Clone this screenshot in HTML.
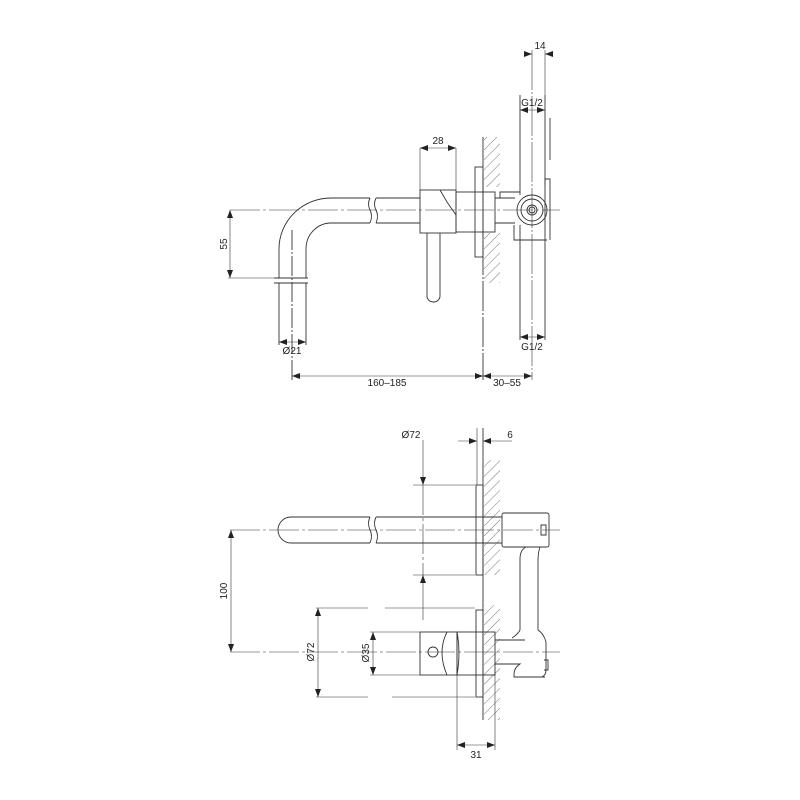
<!DOCTYPE html>
<html><head><meta charset="utf-8"><style>
html,body{margin:0;padding:0;background:#fff;width:800px;height:800px;overflow:hidden}
svg text{font-family:"Liberation Sans",sans-serif;font-size:10px;fill:#222}
</style></head><body>
<svg width="800" height="800" viewBox="0 0 800 800" xmlns="http://www.w3.org/2000/svg">
<defs>
<pattern id="h" width="7" height="7" patternUnits="userSpaceOnUse" patternTransform="rotate(45)"><line x1="0" y1="0" x2="0" y2="7" stroke="#555" stroke-width="0.8"/></pattern>
<marker id="a" viewBox="0 0 8 6" refX="8" refY="3" markerWidth="8" markerHeight="6" orient="auto-start-reverse" markerUnits="userSpaceOnUse"><path d="M0,0L8,3L0,6z" fill="#222"/></marker>
</defs>
<g fill="none" stroke="#333" stroke-width="0.9">
<rect x="484" y="137" width="16" height="50" fill="url(#h)" stroke="none"/>
<rect x="484" y="233" width="16" height="50" fill="url(#h)" stroke="none"/>
<line x1="483" y1="137" x2="483" y2="380" stroke-dasharray="30,2,2,2"/>
<path d="M370,198 H331 A52,51 0 0 0 279,249 V278"/>
<path d="M370,223 H331 A25,26 0 0 0 306,249 V278"/>
<path d="M370,198 q-3,6 0,12 q3,6 0,13"/>
<path d="M376,198 q-3,6 0,12 q3,6 0,13"/>
<path d="M376,198 H420 M376,223 H420"/>
<line x1="274" y1="278" x2="308" y2="278"/>
<line x1="274" y1="283" x2="308" y2="283"/>
<path d="M279,283 V345 M306,283 V345"/>
<line x1="292" y1="230" x2="292" y2="380" stroke-dasharray="20,2,2,2"/>
<line x1="230" y1="210" x2="560" y2="210" stroke-dasharray="30,3,3,3" stroke-width="0.6"/>
<rect x="420" y="190" width="36" height="43"/>
<path d="M440,190 L447,202 L456,215"/>
<rect x="456" y="192" width="39" height="40"/>
<rect x="475" y="167" width="8" height="90"/>
<path d="M427,233 V296 a6.5,6 0 0 0 13,0 V233"/>
<path d="M495,198 H515 M495,223 H515 M500,198 V192 H520"/>
<path d="M514,225 V240 H547 M545,185 V179 h5 V240"/>
<circle cx="532" cy="210" r="15"/>
<circle cx="532" cy="210" r="11"/>
<circle cx="532" cy="210" r="5"/>
<circle cx="532" cy="210" r="3"/>
<line x1="520" y1="95" x2="520" y2="195"/><line x1="520" y1="225" x2="520" y2="340"/>
<line x1="545" y1="95" x2="545" y2="340"/>
<line x1="550" y1="118" x2="550" y2="160"/>
<line x1="532" y1="50" x2="532" y2="380" stroke-dasharray="40,2,2,2" stroke-width="0.6"/>
<line x1="545" y1="50" x2="545" y2="95" stroke-width="0.6"/>
<g stroke-width="0.6">
<line x1="420" y1="148" x2="420" y2="190"/><line x1="456" y1="148" x2="456" y2="190"/>
<line x1="420" y1="148" x2="456" y2="148" marker-start="url(#a)" marker-end="url(#a)"/>
<line x1="525" y1="54" x2="532" y2="54" marker-end="url(#a)"/>
<line x1="552" y1="54" x2="545" y2="54" marker-end="url(#a)"/>
<line x1="520" y1="110" x2="545" y2="110" marker-start="url(#a)" marker-end="url(#a)"/>
<line x1="520" y1="337" x2="545" y2="337" marker-start="url(#a)" marker-end="url(#a)"/>
<line x1="230" y1="210" x2="230" y2="278" marker-start="url(#a)" marker-end="url(#a)"/>
<line x1="228" y1="278" x2="274" y2="278"/>
<line x1="279" y1="342" x2="306" y2="342" marker-start="url(#a)" marker-end="url(#a)"/>
<line x1="292" y1="376" x2="483" y2="376" marker-start="url(#a)" marker-end="url(#a)"/>
<line x1="483" y1="376" x2="532" y2="376" marker-start="url(#a)" marker-end="url(#a)"/>
</g>
<rect x="484" y="460" width="16" height="115" fill="url(#h)" stroke="none"/>
<rect x="484" y="605" width="16" height="115" fill="url(#h)" stroke="none"/>
<line x1="483" y1="428" x2="483" y2="720"/>
<line x1="477" y1="428" x2="477" y2="485" stroke-width="0.6"/>
<rect x="476" y="485" width="7" height="90"/>
<rect x="476" y="610" width="7" height="87"/>
<path d="M370,517 H291 a13,13 0 0 0 0,26 H370"/>
<path d="M370,517 q-3,6 0,13 q3,6 0,13 M376,517 q-3,6 0,13 q3,6 0,13"/>
<path d="M376,517 H502 M376,543 H502"/>
<rect x="502" y="513" width="47" height="34" rx="2"/>
<path d="M541,525 h5 v10 h-5z"/>
<path d="M526,547 q-6,3 -6,12 V630 q-2,4 -8,8 M540,547 q-2,5 -2,15 V630 q6,4 8,12 V670 q0,5 -4,7"/>
<path d="M495,640 H525 M495,664 H520 q-6,4 -6,10 V677 H545 M544,660 h4 v10 h-4"/>
<rect x="420" y="632" width="37" height="43"/>
<path d="M447,632 q-10,20 0,43 M457,632 q4,20 0,43"/>
<rect x="457" y="632" width="38" height="43"/>
<circle cx="433" cy="652" r="5"/>
<line x1="230" y1="530" x2="560" y2="530" stroke-dasharray="30,3,3,3" stroke-width="0.6"/>
<line x1="230" y1="652" x2="560" y2="652" stroke-dasharray="30,3,3,3" stroke-width="0.6"/>
<g stroke-width="0.6">
<line x1="413" y1="485" x2="475" y2="485"/><line x1="413" y1="575" x2="475" y2="575"/>
<line x1="423" y1="440" x2="423" y2="485" marker-end="url(#a)"/>
<line x1="423" y1="620" x2="423" y2="575" marker-end="url(#a)"/>
<line x1="423" y1="485" x2="423" y2="575" stroke-dasharray="30,3,3,3"/>
<line x1="458" y1="441" x2="477" y2="441" marker-end="url(#a)"/>
<line x1="512" y1="441" x2="483" y2="441" marker-end="url(#a)"/>
<line x1="231" y1="530" x2="231" y2="652" marker-start="url(#a)" marker-end="url(#a)"/>
<line x1="316" y1="608" x2="368" y2="608"/><line x1="385" y1="608" x2="475" y2="608"/>
<line x1="316" y1="697" x2="368" y2="697"/><line x1="392" y1="697" x2="475" y2="697"/>
<line x1="318" y1="608" x2="318" y2="697" marker-start="url(#a)" marker-end="url(#a)"/>
<line x1="370" y1="632" x2="420" y2="632"/><line x1="370" y1="675" x2="420" y2="675"/>
<line x1="373" y1="632" x2="373" y2="675" marker-start="url(#a)" marker-end="url(#a)"/>
<line x1="457" y1="675" x2="457" y2="750"/><line x1="495" y1="675" x2="495" y2="750"/>
<line x1="457" y1="745" x2="495" y2="745" marker-start="url(#a)" marker-end="url(#a)"/>
</g>
</g>
<text x="540" y="49" text-anchor="middle">14</text>
<text x="532" y="106" text-anchor="middle">G1/2</text>
<text x="532" y="350" text-anchor="middle">G1/2</text>
<text x="438" y="144" text-anchor="middle">28</text>
<text x="227" y="244" text-anchor="middle" transform="rotate(-90 227 244)">55</text>
<text x="292" y="354" text-anchor="middle">Ø21</text>
<text x="387" y="386" text-anchor="middle">160–185</text>
<text x="507" y="386" text-anchor="middle">30–55</text>
<text x="411" y="438" text-anchor="middle">Ø72</text>
<text x="510" y="438" text-anchor="middle">6</text>
<text x="227" y="591" text-anchor="middle" transform="rotate(-90 227 591)">100</text>
<text x="314" y="652" text-anchor="middle" transform="rotate(-90 314 652)">Ø72</text>
<text x="369" y="653" text-anchor="middle" transform="rotate(-90 369 653)">Ø35</text>
<text x="476" y="758" text-anchor="middle">31</text>
</svg>
</body></html>
